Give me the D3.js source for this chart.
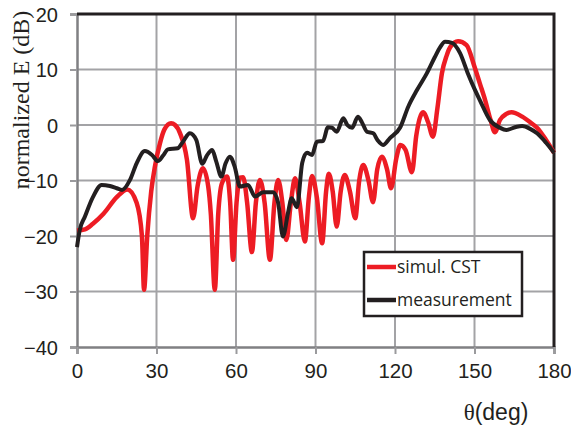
<!DOCTYPE html>
<html>
<head>
<meta charset="utf-8">
<script src="https://cdn.jsdelivr.net/npm/d3@7"></script>
<style>
  body { margin: 0; background: #fff; }
  svg { display: block; }
  .tick-label { font-family: "Liberation Sans", Arial, sans-serif; fill: #231f20; }
</style>
</head>
<body>
<svg id="chart" width="571" height="430"></svg>
<script>
// angle (deg) / normalized field (dB)
const simAngle = [0, 3, 6, 10, 15, 19, 22.5, 24.5, 25.3, 26.5, 28, 29.4, 31.3, 33, 35.5, 37, 38.9, 41.5, 43.8, 45.5,
  47.5, 49.5, 50.5, 52, 53.3, 54.7, 56.6, 57.8, 58.9, 60.2, 61.5, 62.7, 64.2, 66, 67.5, 69, 70.8, 72.8, 74.5, 75.9,
  77.5, 79, 80.7, 82.3, 84, 86, 87.5, 88.7, 90.5, 92.5, 94, 95, 96.5, 98, 99.5, 101, 103, 105, 106.5, 108,
  110, 111.7, 113.3, 115, 117, 118.5, 120.5, 122, 124, 126.4, 128, 130.6, 132.5, 134.3, 136, 137.7, 139.5, 140.8, 143.8, 147,
  150, 152, 154, 156, 157.7, 159.6, 162, 164, 168, 171, 173.6, 177, 180];
const simDb = [-19, -18.8, -17.8, -16, -13, -11.6, -14, -20, -29.7, -20, -12, -7.5, -3.3, -0.8, 0.3, 0, -1.5, -6.3, -16.8, -11,
  -7.8, -11, -16, -29.7, -16, -10.5, -9.3, -14, -24.3, -14, -9.5, -9.4, -14, -22.9, -14, -9.9, -14, -24.3, -14, -9.9,
  -14, -20.7, -14, -9.6, -14, -21, -13, -9.2, -13, -21.3, -12, -8.8, -12, -18.3, -12, -9, -12, -16.8, -10, -7.2,
  -10, -13.9, -8, -5.7, -8, -11.4, -6, -3.6, -4.5, -8.5, -2, 2.3, 0.5, -2.1, 3, 9.3, 12.5, 14, 15.1, 14.4,
  10.5, 7.5, 4.5, 1, -1.3, 0.9, 2, 2.3, 1.5, 0.5, -0.5, -2.7, -5];

const measAngle = [0, 1, 3, 6, 9.3, 12.4, 15, 17, 20, 22.5, 25.6, 28.3, 30.5, 32.5, 34.3, 38, 40, 42.6, 45, 47.3,
  49, 51, 52.5, 54.5, 56, 57.7, 59.5, 61.5, 64.5, 67.2, 70.2, 74, 75.9, 77.7, 79.6, 81, 83, 85, 86.8, 88.7,
  90.5, 92.8, 94.7, 96.2, 98, 100.5, 102, 103.8, 106, 107.5, 109.4, 111.8, 113.5, 115.5, 118, 122, 125, 128.3, 132, 135,
  137, 138.9, 141.5, 144.5, 147.5, 150, 152, 155.8, 159.6, 162, 166, 168, 171, 173.6, 177, 180];
const measDb = [-22, -19, -16.5, -13, -10.8, -11, -11.4, -11.7, -9.9, -6.9, -4.7, -5.4, -6.5, -5.5, -4.4, -4.2, -3, -1.5, -2.7, -7,
  -5.5, -4.5, -6.5, -9.3, -7, -5.7, -7.5, -11.1, -10.8, -12.9, -12.1, -12.1, -14, -20.1, -15.9, -13.2, -14.8, -6.8, -5, -5.4,
  -3, -2.9, -0.4, -0.5, -1.2, 1.2, 0, -0.5, 1.5, 0.5, -1.2, -1.5, -2.8, -3.6, -2.4, -0.4, 3.3, 6.3, 9.3, 12.2,
  14, 15, 14.8, 13, 9.3, 6.5, 4.5, 0.9, -0.5, -0.9, -0.3, -0.2, -0.7, -1.5, -3.2, -5];

const xTicks = [0, 30, 60, 90, 120, 150, 180];
const yTicks = [-40, -30, -20, -10, 0, 10, 20];
const seriesNames = ['simul. CST', 'measurement'];
const seriesColors = ['#ed1c24', '#231f20'];

const svg = d3.select('svg#chart');
const plot = { left: 77, right: 554, top: 14, bottom: 347 };

const x = d3.scaleLinear().domain([0, 180]).range([plot.left, plot.right]);
const y = d3.scaleLinear().domain([-40, 20]).range([plot.bottom, plot.top]);

// grid
svg.append('g').selectAll('line')
  .data(xTicks.slice(1, -1))
  .join('line')
    .attr('x1', d => x(d)).attr('x2', d => x(d))
    .attr('y1', plot.top).attr('y2', plot.bottom)
    .attr('stroke', '#a3a3a6').attr('stroke-width', 2);
svg.append('g').selectAll('line')
  .data(yTicks.slice(1, -1))
  .join('line')
    .attr('x1', plot.left).attr('x2', plot.right)
    .attr('y1', d => y(d)).attr('y2', d => y(d))
    .attr('stroke', '#a3a3a6').attr('stroke-width', 2);

// axes
const yAxis = svg.append('g')
  .attr('transform', `translate(${plot.left},0)`)
  .call(d3.axisLeft(y).tickValues(yTicks).tickSize(7).tickPadding(12));
const xAxis = svg.append('g')
  .attr('transform', `translate(0,${plot.bottom})`)
  .call(d3.axisBottom(x).tickValues(xTicks).tickSize(7).tickPadding(9));
[yAxis, xAxis].forEach(ax => {
  ax.select('.domain').attr('stroke', '#808083').attr('stroke-width', 2.5);
  ax.selectAll('.tick line').attr('stroke', '#9a9a9d').attr('stroke-width', 2);
  ax.selectAll('.tick text').attr('class', 'tick-label').attr('fill', '#231f20');
});
yAxis.selectAll('.tick text').style('font-size', '20px').attr('dy', '0.36em');
xAxis.selectAll('.tick text').style('font-size', '20.5px');

// frame: top + right in black
svg.append('path')
  .attr('d', `M${plot.left},${plot.top}H${plot.right}V${plot.bottom}`)
  .attr('fill', 'none').attr('stroke', '#231f20').attr('stroke-width', 3);

// curves
const line = d3.line()
  .x(d => x(d[0]))
  .y(d => y(d[1]))
  .curve(d3.curveMonotoneX);

const series = [
  d3.zip(simAngle, simDb),
  d3.zip(measAngle, measDb)
];
series.forEach((pts, i) => {
  svg.append('path')
    .datum(pts)
    .attr('fill', 'none')
    .attr('stroke', seriesColors[i])
    .attr('stroke-width', i === 0 ? 4.5 : 4)
    .attr('stroke-linejoin', 'round')
    .attr('d', line);
});

// legend
const lg = svg.append('g');
lg.append('rect')
  .attr('x', 364).attr('y', 252).attr('width', 158).attr('height', 64)
  .attr('fill', '#fff').attr('stroke', '#231f20').attr('stroke-width', 2.5);
seriesNames.forEach((name, i) => {
  const ly = 267 + i * 33;
  lg.append('line')
    .attr('x1', 367).attr('x2', 396).attr('y1', ly).attr('y2', ly)
    .attr('stroke', seriesColors[i]).attr('stroke-width', 4.5);
  lg.append('text')
    .attr('x', 397).attr('y', ly + 6)
    .attr('font-family', '"Open Sans", sans-serif')
    .attr('font-size', 17.5)
    .attr('fill', '#231f20')
    .text(name);
});

// axis titles
svg.append('text')
  .attr('transform', 'translate(29,100) rotate(-90)')
  .attr('text-anchor', 'middle')
  .attr('font-family', '"Liberation Serif", "Times New Roman", serif')
  .attr('font-size', 24)
  .attr('fill', '#231f20')
  .text('normalized E (dB)');

const xt = svg.append('text')
  .attr('x', 496).attr('y', 420)
  .attr('text-anchor', 'middle')
  .attr('font-size', 23)
  .attr('fill', '#231f20');
xt.append('tspan').attr('font-family', '"Liberation Serif", serif').text('θ');
xt.append('tspan').attr('font-family', '"Liberation Sans", Arial, sans-serif').text('(deg)');
</script>
</body>
</html>
